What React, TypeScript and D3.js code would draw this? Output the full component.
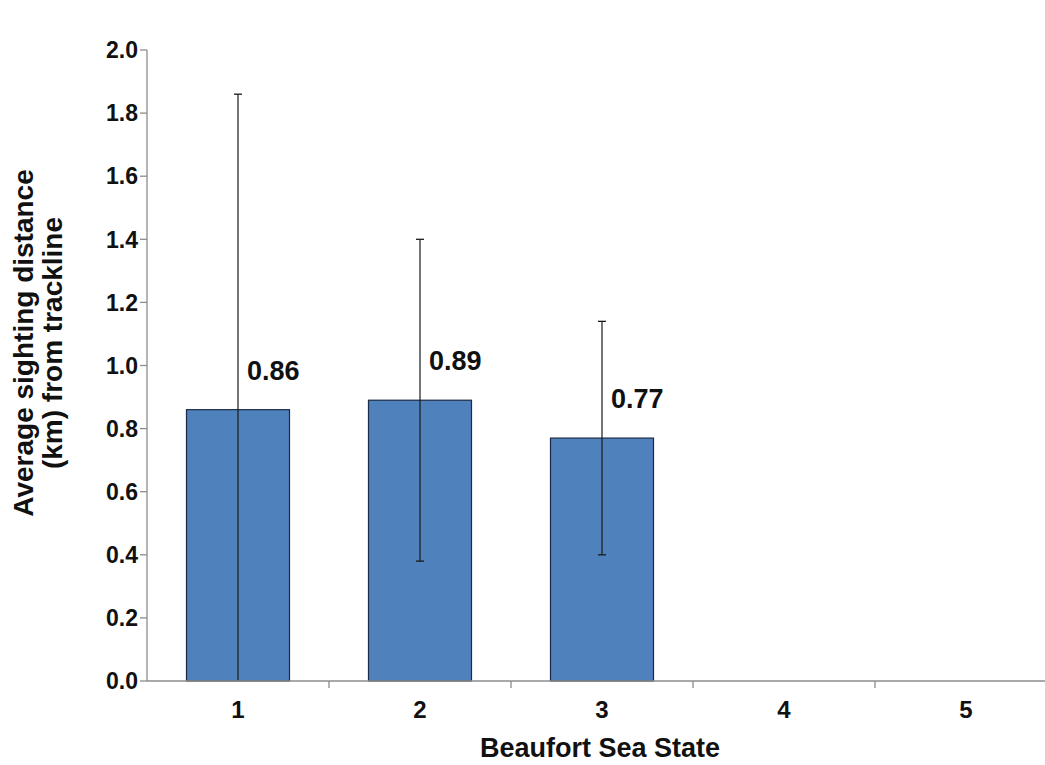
import React from 'react';
import * as d3 from 'd3';

// Beaufort sea state categories and average sighting distance (km)
const categories = ['1', '2', '3', '4', '5'];
const means: (number | null)[] = [0.86, 0.89, 0.77, null, null];
const errors: (number | null)[] = [1.0, 0.51, 0.37, null, null];
const yTicks = [0, 0.2, 0.4, 0.6, 0.8, 1.0, 1.2, 1.4, 1.6, 1.8, 2.0];

const W = 1045;
const H = 765;
const font = '"Liberation Sans", Arial, sans-serif';

const App = () => {
  const x = d3.scaleBand().domain(categories).range([147, 1057]).padding(0);
  const y = d3.scaleLinear().domain([0, 2]).range([681, 50]);
  const bw = x.bandwidth() * 0.566;
  const fmt = d3.format('.1f');
  const axisColor = '#8c8c8c';

  return (
    <svg width={W} height={H} style={{ position: 'absolute', left: 0, top: 0, background: '#fff' }}
      fontFamily={font}>
      {/* y axis */}
      <line x1={147} x2={147} y1={y(2)} y2={y(0)} stroke={axisColor} strokeWidth={1.3} />
      {yTicks.map((t) => (
        <g key={t}>
          <line x1={140} x2={147} y1={y(t)} y2={y(t)} stroke={axisColor} strokeWidth={1.3} />
          <text x={138} y={y(t)} dy="0.36em" textAnchor="end" fontSize={23} fontWeight="bold" fill="#111">
            {fmt(t)}
          </text>
        </g>
      ))}

      {/* bars */}
      {categories.map((c, i) => {
        const v = means[i];
        if (v == null) return null;
        const cx = x(c)! + x.bandwidth() / 2;
        const e = errors[i] ?? 0;
        const lo = Math.max(0, v - e);
        const hi = v + e;
        return (
          <g key={c}>
            <rect x={cx - bw / 2} y={y(v)} width={bw} height={y(0) - y(v)}
              fill="#4F81BD" stroke="#1c2b45" strokeWidth={1.2} />
            <line x1={cx} x2={cx} y1={y(hi)} y2={y(lo)} stroke="#1a1a1a" strokeWidth={1.2} />
            <line x1={cx - 4} x2={cx + 4} y1={y(hi)} y2={y(hi)} stroke="#1a1a1a" strokeWidth={1.3} />
            {lo > 0 && (
              <line x1={cx - 4} x2={cx + 4} y1={y(lo)} y2={y(lo)} stroke="#1a1a1a" strokeWidth={1.3} />
            )}
            <text x={cx + 9} y={y(v) - 30} fontSize={27} fontWeight="bold" fill="#111">
              {d3.format('.2f')(v)}
            </text>
          </g>
        );
      })}

      {/* x axis */}
      <line x1={147} x2={W} y1={y(0)} y2={y(0)} stroke={axisColor} strokeWidth={1.3} />
      {categories.map((c, i) => (
        <g key={c}>
          {i > 0 && (
            <line x1={x(c)} x2={x(c)} y1={y(0)} y2={y(0) + 7} stroke={axisColor} strokeWidth={1.3} />
          )}
          <text x={x(c)! + x.bandwidth() / 2} y={718} textAnchor="middle" fontSize={24} fontWeight="bold" fill="#111">
            {c}
          </text>
        </g>
      ))}

      {/* axis titles */}
      <text x={600} y={757} textAnchor="middle" fontSize={27} fontWeight="bold" fill="#111">
        Beaufort Sea State
      </text>
      <g transform={`translate(0, 343) rotate(-90)`}>
        <text x={0} y={33} textAnchor="middle" fontSize={28} fontWeight="bold" fill="#111">
          Average sighting distance
        </text>
        <text x={0} y={62} textAnchor="middle" fontSize={28} fontWeight="bold" fill="#111">
          (km) from trackline
        </text>
      </g>
    </svg>
  );
};

export default App;
